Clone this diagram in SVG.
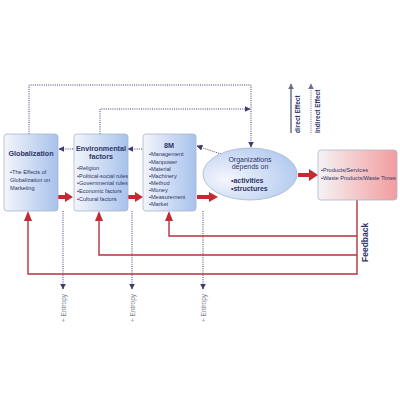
<svg xmlns="http://www.w3.org/2000/svg" width="400" height="400" viewBox="0 0 400 400">
<defs>
<linearGradient id="gb" x1="0" y1="0" x2="1" y2="0"><stop offset="0" stop-color="#f3f5fb"/><stop offset="1" stop-color="#a8c2ec"/></linearGradient>
<linearGradient id="gp" x1="0" y1="0" x2="1" y2="0"><stop offset="0" stop-color="#f5f3f5"/><stop offset="1" stop-color="#f29c9e"/></linearGradient>
<radialGradient id="ge" cx="0.25" cy="0.6" r="0.9"><stop offset="0" stop-color="#f4f6fc"/><stop offset="1" stop-color="#a9c3ee"/></radialGradient>
<marker id="ad" viewBox="0 0 10 10" refX="9" refY="5" markerWidth="6" markerHeight="6" orient="auto" markerUnits="userSpaceOnUse"><path d="M0,0L10,5L0,10z" fill="#3c3f6e"/></marker>
<marker id="al" viewBox="0 0 10 10" refX="9" refY="5" markerWidth="6" markerHeight="6" orient="auto" markerUnits="userSpaceOnUse"><path d="M0,0L10,5L0,10z" fill="#6b7088"/></marker>
<style>
.box{stroke:#a9b6cc;stroke-width:0.8}
.t{font-family:"Liberation Sans",Arial,sans-serif;fill:#2e3566}
.h{font-size:7.2px;font-weight:bold}
.s{font-size:5.6px}
.dot{fill:none;stroke:#3c3f6e;stroke-width:1;stroke-dasharray:1 1.2}
.fb{fill:none;stroke:#b6323e;stroke-width:1.4}
.ent{font-size:6.5px;fill:#7a7f92}
</style>
</defs>
<g id="connectors">
<path class="dot" d="M29,134V85H251V147" marker-end="url(#ad)"/>
<path class="dot" d="M100,134V109H250" marker-end="url(#ad)"/>
<path class="dot" d="M73,149H59" marker-end="url(#ad)"/>
<path class="dot" d="M142,149H128" marker-end="url(#ad)"/>
<path class="dot" d="M221,154L197,146" marker-end="url(#ad)"/>
<path class="dot" d="M63,211V289" marker-end="url(#ad)"/>
<path class="dot" d="M132,211V289" marker-end="url(#ad)"/>
<path class="dot" d="M203,211V289" marker-end="url(#ad)"/>
<path d="M58,195H65V192L73,197L65,202V199H58z" fill="#c52a32"/>
<path d="M128,195H135V192L143,197L135,202V199H128z" fill="#c52a32"/>
<path d="M197,195H209V192L218,197L209,202V199H197z" fill="#c52a32"/>
<path d="M298,173H309V169L318,175L309,181V177H298z" fill="#c52a32"/>
<path class="fb" d="M357,200V274H28V213"/>
<path class="fb" d="M357,255H99V213"/>
<path class="fb" d="M357,236H169V213"/>
<path d="M28,211L24,221H32z" fill="#c52a32"/>
<path d="M99,211L95,221H103z" fill="#c52a32"/>
<path d="M169,211L165,221H173z" fill="#c52a32"/>
</g>
<g id="globalization">
<rect class="box" x="4" y="134" width="54" height="77" rx="3" fill="url(#gb)"/>
<text class="t h" x="31" y="156" text-anchor="middle">Globalization</text>
<text class="t s" x="10" y="174">•The Effects of</text>
<text class="t s" x="10" y="182">Globalization on</text>
<text class="t s" x="10" y="190">Marketing</text>
</g>
<g id="environmental">
<rect class="box" x="74" y="134" width="54" height="77" rx="3" fill="url(#gb)"/>
<text class="t h" x="101" y="151" text-anchor="middle">Environmental</text>
<text class="t h" x="101" y="159" text-anchor="middle">factors</text>
<text class="t s" x="77" y="170">•Religion</text>
<text class="t s" x="77" y="178">•Political-social rules</text>
<text class="t s" x="77" y="185">•Governmental rules</text>
<text class="t s" x="77" y="193">•Economic factors</text>
<text class="t s" x="77" y="201">•Cultural factors</text>
</g>
<g id="m8">
<rect class="box" x="143" y="134" width="53" height="77" rx="3" fill="url(#gb)"/>
<text class="t h" x="169" y="148" text-anchor="middle">8M</text>
<text class="t s" x="149" y="156">•Management</text>
<text class="t s" x="149" y="163.5">•Manpower</text>
<text class="t s" x="149" y="170.5">•Material</text>
<text class="t s" x="149" y="177.5">•Machinery</text>
<text class="t s" x="149" y="184.5">•Method</text>
<text class="t s" x="149" y="191.5">•Money</text>
<text class="t s" x="149" y="199">•Measurement</text>
<text class="t s" x="149" y="206">•Market</text>
</g>
<g id="organizations">
<ellipse cx="250" cy="174" rx="47" ry="26" fill="url(#ge)" stroke="#a9b6cc" stroke-width="0.8"/>
<text class="t" x="250" y="162" text-anchor="middle" style="font-size:7px">Organizations</text>
<text class="t" x="250" y="169" text-anchor="middle" style="font-size:7px">depends on</text>
<text class="t" x="231" y="183" style="font-size:7px;font-weight:bold">•activities</text>
<text class="t" x="231" y="191" style="font-size:7px;font-weight:bold">•structures</text>
</g>
<g id="products">
<rect class="box" x="318" y="150" width="79" height="50" rx="3" fill="url(#gp)"/>
<text class="t s" x="321" y="172">•Products/Services</text>
<text class="t s" x="321" y="180">•Waste Products/Waste Times</text>
</g>
<g id="legend">
<path d="M291,133V84" stroke="#6b7088" stroke-width="1.5" fill="none" marker-end="url(#al)"/>
<path d="M311,133V84" stroke="#6b7088" stroke-width="1" stroke-dasharray="1 1.2" fill="none" marker-end="url(#al)"/>
<text class="t" transform="translate(300,133) rotate(-90)" style="font-size:6.5px;font-weight:bold">direct Effect</text>
<text class="t" transform="translate(320,133) rotate(-90)" style="font-size:6.5px;font-weight:bold">Indirect Effect</text>
</g>
<g id="labels">
<text class="t" transform="translate(368,262) rotate(-90)" style="font-size:8.5px;font-weight:bold">Feedback</text>
<text class="t ent" transform="translate(66,322) rotate(-90)">+ Entropy</text>
<text class="t ent" transform="translate(135,322) rotate(-90)">+ Entropy</text>
<text class="t ent" transform="translate(206,322) rotate(-90)">+ Entropy</text>
</g>
</svg>
